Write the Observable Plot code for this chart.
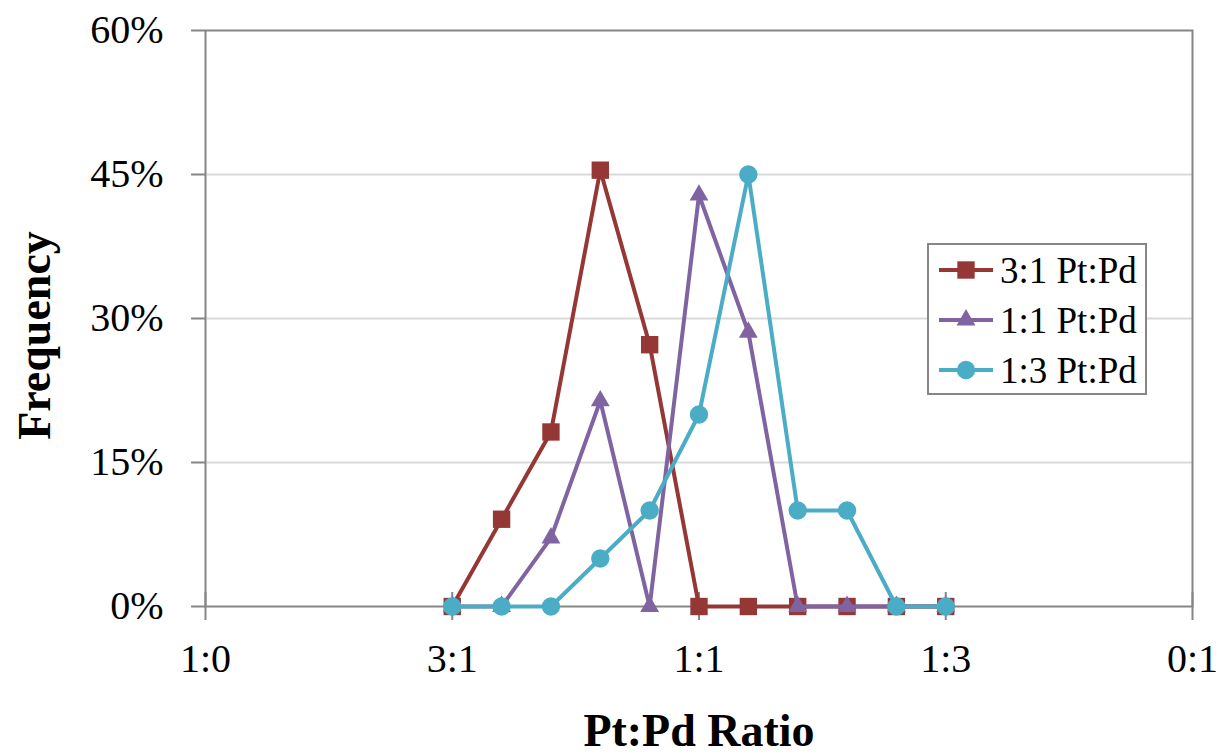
<!DOCTYPE html>
<html>
<head>
<meta charset="utf-8">
<script src="https://cdn.jsdelivr.net/npm/d3@7"></script>
<script src="https://cdn.jsdelivr.net/npm/@observablehq/plot@0.6"></script>
<style>
  html, body { margin: 0; padding: 0; background: #fff; }
  #wrap { position: relative; width: 1218px; height: 756px; font-family: 'Liberation Serif', 'DejaVu Serif', serif; }
  #wrap svg text { font-family: 'Liberation Serif', 'DejaVu Serif', serif; }
  #legend { position: absolute; left: 927px; top: 243px; width: 216px; height: 148px; border: 2px solid #868686; background: #fff; box-sizing: content-box; }
  .row { position: absolute; left: 0; height: 50px; display: flex; align-items: center; }
  .row span { font-family: 'Liberation Serif', 'DejaVu Serif', serif; font-size: 37px; color: #000; margin-left: 5px; white-space: nowrap; }
</style>
</head>
<body>
<div id="wrap"></div>
<script>
// ---- data ----
const xPositions = [1.0, 1.2, 1.4, 1.6, 1.8, 2.0, 2.2, 2.4, 2.6, 2.8, 3.0];
const seriesNames = ["3:1 Pt:Pd", "1:1 Pt:Pd", "1:3 Pt:Pd"];
const freq31 = [0, 9.09, 18.18, 45.45, 27.27, 0, 0, 0, 0, 0, 0];
const freq11 = [0, 0, 7.14, 21.43, 0, 42.86, 28.57, 0, 0, 0, 0];
const freq13 = [0, 0, 0, 5, 10, 20, 45, 10, 10, 0, 0];
const xTickValues = [0, 1, 2, 3, 4];
const xTickLabels = ["1:0", "3:1", "1:1", "1:3", "0:1"];
const yTickValues = [0, 15, 30, 45, 60];
const gridValues = [15, 30, 45];
const seriesColors = ["#953735", "#8064A2", "#4BACC6"];
const seriesSymbols = ["square", "triangle", "circle"];
const symbolR = [9.8, 7.0, 9.2];

const allFreq = [freq31, freq11, freq13];
const tables = allFreq.map((vals, s) => xPositions.map((x, i) => ({x, y: vals[i], series: seriesNames[s]})));

const seriesMarks = tables.flatMap((t, s) => [
  Plot.line(t, {x: "x", y: "y", stroke: seriesColors[s], strokeWidth: 4}),
  Plot.dot(t, {x: "x", y: "y", symbol: () => seriesSymbols[s], fill: seriesColors[s], r: symbolR[s], stroke: "none"})
]);

const serif = "'Liberation Serif', 'DejaVu Serif', serif";

const chart = Plot.plot({
  width: 1218,
  height: 756,
  marginLeft: 205,
  marginRight: 26,
  marginTop: 30,
  marginBottom: 150,
  style: {fontFamily: serif, background: "#fff", color: "#000"},
  x: {domain: [0, 4]},
  y: {domain: [0, 60]},
  symbol: {type: "identity"},
  marks: [
    Plot.gridY(gridValues, {stroke: "#d9d9d9", strokeOpacity: 1, strokeWidth: 2}),
    Plot.frame({stroke: "#868686", strokeWidth: 2}),
    Plot.axisY({ticks: yTickValues, tickFormat: d => d + "%", tickSize: 14, tickPadding: 28, fontSize: 40, stroke: "#868686", strokeWidth: 2, fill: "#000", label: null}),
    Plot.axisX({ticks: xTickValues, tickFormat: () => "", tickSize: 28, dy: -14, stroke: "#868686", strokeWidth: 2, label: null}),
    Plot.axisX({ticks: xTickValues, tickFormat: (d, i) => xTickLabels[i], tickSize: 0, tickPadding: 37, fontSize: 40, fill: "#000", label: null}),
    ...seriesMarks,
    Plot.text(["Pt:Pd Ratio"], {frameAnchor: "bottom", dy: 139, lineAnchor: "bottom", textAnchor: "middle", fontSize: 46, fontWeight: "bold", fill: "#000"}),
    Plot.text(["Frequency"], {frameAnchor: "left", textAnchor: "middle", rotate: -90, dx: -170, dy: 17, lineAnchor: "middle", fontSize: 46, fontWeight: "bold", fill: "#000"})
  ]
});

const wrap = document.getElementById("wrap");
wrap.appendChild(chart);

// legend
const legend = document.createElement("div");
legend.id = "legend";
const rowTops = [0, 50, 100];
seriesNames.forEach((name, s) => {
  const row = document.createElement("div");
  row.className = "row";
  row.style.top = rowTops[s] + "px";
  const svg = d3.create("svg").attr("width", 66).attr("height", 50);
  svg.append("line").attr("x1", 10).attr("x2", 64).attr("y1", 25).attr("y2", 25)
    .attr("stroke", seriesColors[s]).attr("stroke-width", 4);
  const symType = {square: d3.symbolSquare, triangle: d3.symbolTriangle, circle: d3.symbolCircle}[seriesSymbols[s]];
  svg.append("path").attr("transform", "translate(37,25)")
    .attr("d", d3.symbol(symType, Math.PI * symbolR[s] * symbolR[s])())
    .attr("fill", seriesColors[s]);
  row.appendChild(svg.node());
  const label = document.createElement("span");
  label.textContent = name;
  row.appendChild(label);
  legend.appendChild(row);
});
wrap.appendChild(legend);
</script>
</body>
</html>
